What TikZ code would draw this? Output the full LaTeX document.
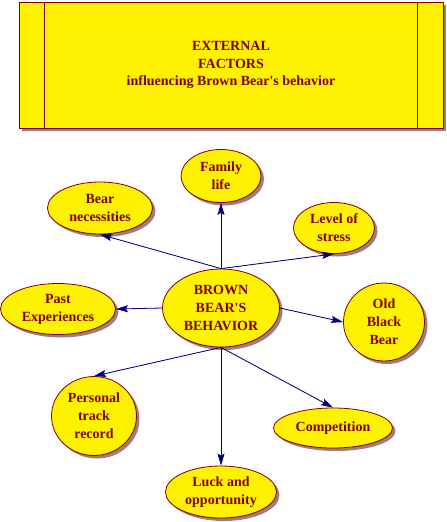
\documentclass[tikz,border=0pt]{standalone}
\usepackage{fontspec}
\setmainfont{Liberation Serif}
\usetikzlibrary{shapes,arrows.meta,shadows,positioning}
\definecolor{bearred}{HTML}{800000}
\definecolor{bearnavy}{HTML}{000080}
\definecolor{bearshadow}{HTML}{A07C7C}

\begin{document}
\begin{tikzpicture}[x=1pt,y=-1pt]

\tikzset{bshadow/.style = {drop shadow={shadow xshift=3pt,shadow yshift=-3pt,fill=bearshadow,opacity=1}}}
\tikzset{vertex/.style = {shape=ellipse,draw=bearred,line width=0.8pt,fill=yellow,inner sep=0pt,align=center,text=bearred,font=\fontsize{14}{18}\selectfont\bfseries,bshadow}}
\tikzset{edge/.style = {-{Stealth[length=12pt,width=7pt,inset=2pt]},draw=bearnavy,fill=bearnavy,line width=0.8pt}}

\useasboundingbox (0,0) rectangle (447,522);

% title box
\node[draw=bearred,line width=0.8pt,fill=yellow,minimum width=424,minimum height=126,inner sep=0pt,align=center,text=bearred,font=\fontsize{14}{17.5}\selectfont\bfseries,bshadow] (title) at (231,65)
  {EXTERNAL\\FACTORS\\influencing Brown Bear\textquotesingle s behavior};
\draw[bearred,line width=0.8pt] ([xshift=26pt]title.north west) -- ([xshift=26pt]title.south west);
\draw[bearred,line width=0.8pt] ([xshift=-26pt]title.north east) -- ([xshift=-26pt]title.south east);

% vertices
\node[vertex,minimum width=117,minimum height=78] (hub) at (221,308) {BROWN\\BEAR\textquotesingle S\\BEHAVIOR};
\node[vertex,minimum width=80,minimum height=53] (fam) at (221,176) {Family\\life};
\node[vertex,minimum width=105,minimum height=52] (nec) at (100,208) {Bear\\necessities};
\node[vertex,minimum width=81,minimum height=51] (stress) at (334,228) {Level of\\stress};
\node[vertex,minimum width=115,minimum height=51] (past) at (58,309) {Past\\Experiences};
\node[vertex,minimum width=81,minimum height=78] (old) at (384,322) {Old\\Black\\Bear};
\node[vertex,minimum width=85,minimum height=79] (pers) at (94,416) {Personal\\track\\record};
\node[vertex,minimum width=119,minimum height=40] (comp) at (333,428) {Competition};
\node[vertex,minimum width=111,minimum height=52] (luck) at (221,492) {Luck and\\opportunity};

% edges
\draw[edge] (hub.north) -- (fam.south);
\draw[edge] (hub.north) -- (nec.south);
\draw[edge] (hub.north) -- (stress.south);
\draw[edge] (hub.west) -- (past.east);
\draw[edge] (hub.east) -- (old.west);
\draw[edge] (hub.south) -- (pers.north);
\draw[edge] (hub.south) -- (luck.north);
\draw[edge] (hub.south) -- (comp.north);

\end{tikzpicture}
\end{document}
